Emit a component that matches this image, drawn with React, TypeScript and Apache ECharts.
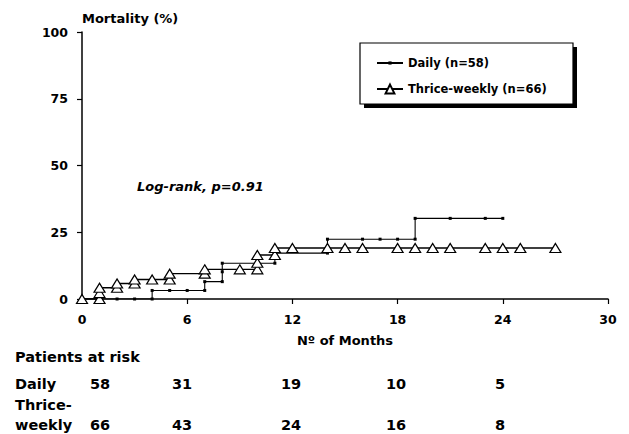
import React, { useEffect, useRef } from "react";
import * as echarts from "echarts";

// ---- Data ----
const dailyMonths = [0, 1, 2, 3, 4, 4, 5, 6, 7, 7, 8, 8, 8, 11, 11, 14, 14, 16, 17, 18, 19, 19, 21, 23, 24];
const dailyMortality = [0, 0, 0, 0, 0, 3.2, 3.2, 3.2, 3.2, 6.5, 6.5, 10.2, 13.4, 13.4, 17.2, 17.2, 22.4, 22.4, 22.4, 22.4, 22.4, 30.2, 30.2, 30.2, 30.2];

const thriceMonths = [0, 1, 1, 1, 2, 2, 3, 3, 4, 5, 5, 7, 7, 9, 10, 10, 10, 11, 11, 12, 14, 15, 16, 18, 19, 20, 21, 23, 24, 25, 27];
const thriceMortality = [0, 0, 2.2, 4.2, 4.2, 5.8, 5.8, 7.3, 7.3, 7.3, 9.5, 9.5, 11.1, 11.1, 11.1, 13.6, 16.5, 16.5, 19.1, 19.1, 19.1, 19.1, 19.1, 19.1, 19.1, 19.1, 19.1, 19.1, 19.1, 19.1, 19.1];

const seriesNames = ["Daily (n=58)", "Thrice-weekly (n=66)"];
const riskTitle = "Patients at risk";
const riskRowLabels = ["Daily", "Thrice-", "weekly"];
const riskDaily = [58, 31, 19, 10, 5];
const riskThrice = [66, 43, 24, 16, 8];

// ---- Layout constants ----
const FONT = "DejaVu Sans";
const riskColX = [100, 182, 291, 396, 500];

export default function App() {
  const ref = useRef<HTMLDivElement>(null);

  useEffect(() => {
    if (!ref.current) return;
    const chart = echarts.init(ref.current, undefined, { renderer: "svg" });

    const daily = dailyMonths.map((m, i) => [m, dailyMortality[i]]);
    const thrice = thriceMonths.map((m, i) => [m, thriceMortality[i]]);

    const txt = (text: string, x: number, y: number, size: number, extra: any = {}) => ({
      type: "text",
      x,
      y,
      z: 10,
      style: {
        text,
        fill: "#000",
        fontFamily: FONT,
        fontWeight: "bold",
        fontSize: size,
        textAlign: "left",
        textVerticalAlign: "middle",
        align: "left",
        verticalAlign: "middle",
        ...extra,
      },
    });

    const TS = 14.5;
    const graphics: any[] = [
      txt("Mortality (%)", 82, 18, 13),
      txt("Log-rank, p=0.91", 137, 186, 13, { fontStyle: "italic" }),
      txt("Nº of Months", 345, 340, 13, { textAlign: "center", align: "center" }),
      txt(riskTitle, 15, 357, TS),
      txt(riskRowLabels[0], 15, 384, TS),
      txt(riskRowLabels[1], 15, 405, TS),
      txt(riskRowLabels[2], 15, 425, TS),
      // legend box shadow + box
      { type: "rect", z: 1, shape: { x: 364, y: 47, width: 213, height: 61 }, style: { fill: "#000" } },
      { type: "rect", z: 2, shape: { x: 360, y: 43, width: 213, height: 61 }, style: { fill: "#fff", stroke: "#000", lineWidth: 1.2 } },
    ];
    riskDaily.forEach((v, i) => graphics.push(txt(String(v), riskColX[i], 384, TS, { textAlign: "center", align: "center" })));
    riskThrice.forEach((v, i) => graphics.push(txt(String(v), riskColX[i], 425, TS, { textAlign: "center", align: "center" })));

    const legendText = { color: "#000", fontFamily: FONT, fontWeight: "bold", fontSize: 11.5 };

    chart.setOption({
      animation: false,
      backgroundColor: "#fff",
      grid: { left: 82, right: 21, top: 32, bottom: 135, containLabel: false },
      xAxis: {
        type: "value",
        min: 0,
        max: 30,
        interval: 6,
        axisLine: { show: true, lineStyle: { color: "#000", width: 1.5 } },
        axisTick: { show: true, length: 5, lineStyle: { color: "#000", width: 1.2 } },
        axisLabel: { color: "#000", fontFamily: FONT, fontWeight: "bold", fontSize: 12.5, margin: 14 },
        splitLine: { show: false },
      },
      yAxis: {
        type: "value",
        min: 0,
        max: 100,
        interval: 25,
        axisLine: { show: true, lineStyle: { color: "#000", width: 1.5 } },
        axisTick: { show: true, length: 5, lineStyle: { color: "#000", width: 1.2 } },
        axisLabel: { color: "#000", fontFamily: FONT, fontWeight: "bold", fontSize: 12.5, margin: 14 },
        splitLine: { show: false },
      },
      legend: [
        {
          orient: "vertical",
          left: 376,
          top: 57,
          z: 5,
          padding: 0,
          itemWidth: 26,
          itemHeight: 4,
          textStyle: legendText,
          data: [seriesNames[0]],
        },
        {
          orient: "vertical",
          left: 376,
          top: 83,
          z: 5,
          padding: 0,
          itemWidth: 26,
          itemHeight: 11,
          textStyle: legendText,
          data: [seriesNames[1]],
        },
      ],
      series: [
        {
          name: seriesNames[0],
          type: "line",
          step: "end",
          data: daily,
          symbol: "rect",
          symbolSize: 3,
          showAllSymbol: true,
          lineStyle: { color: "#000", width: 1.1 },
          itemStyle: { color: "#000" },
          z: 3,
        },
        {
          name: seriesNames[1],
          type: "line",
          step: "end",
          data: thrice,
          symbol: "triangle",
          symbolSize: [11, 9],
          showAllSymbol: true,
          lineStyle: { color: "#000", width: 1.4 },
          itemStyle: { color: "#fff", borderColor: "#000", borderWidth: 1.2 },
          z: 4,
        },
      ],
      graphic: graphics,
    });

    return () => chart.dispose();
  }, []);

  return <div ref={ref} style={{ position: "fixed", left: 0, top: 0, width: 629, height: 434 }} />;
}
